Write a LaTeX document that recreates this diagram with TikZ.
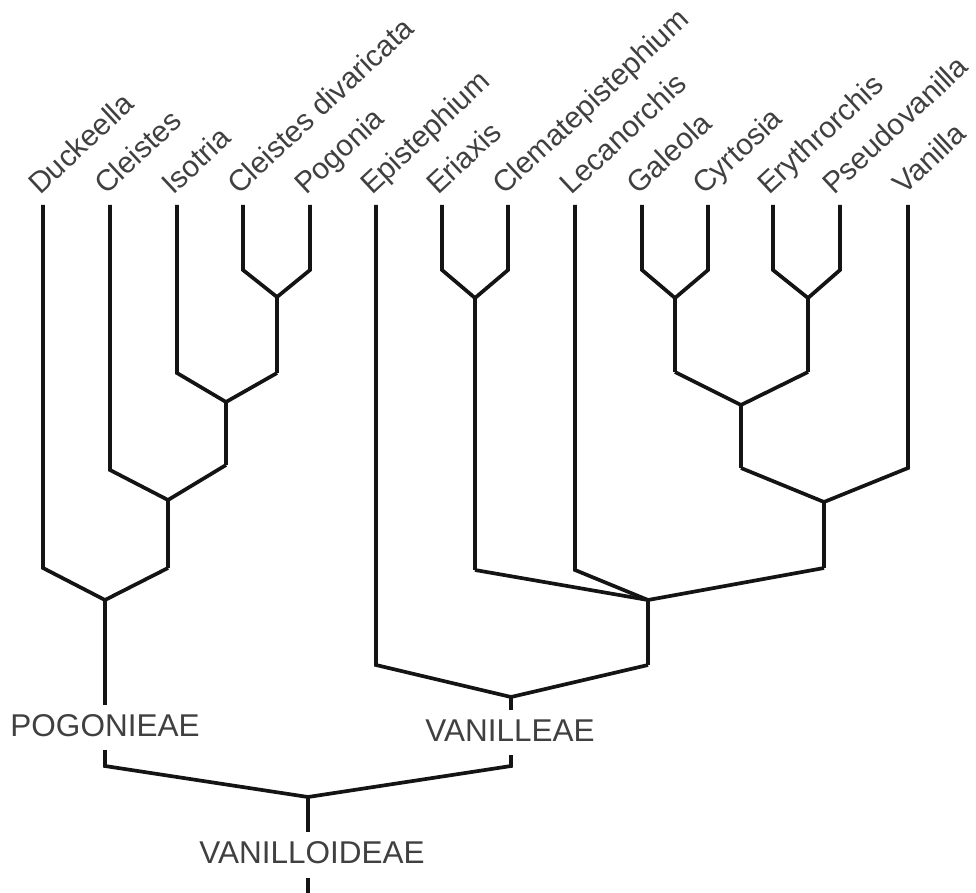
\documentclass[tikz,border=0pt]{standalone}
\usepackage{fontspec}
\setmainfont{Liberation Sans}
\begin{document}
\begin{tikzpicture}[x=1pt,y=-1pt,
  br/.style={line width=3.7pt,draw=black!92,line join=miter,line cap=butt},
  leaf/.style={rotate=43,anchor=base west,inner sep=0pt,text=black!75,font=\fontsize{29.8}{36}\selectfont},
  clade/.style={inner sep=0pt,text=black!75,font=\fontsize{31.5}{38}\selectfont}]
\useasboundingbox (0,0) rectangle (976,893);
% leaf tops
\foreach \n/\x in {1/43,2/110,3/177,4/243,5/310,6/376,7/442,8/508,9/575,10/642,11/708,12/773,13/840,14/908}{
  \coordinate (t\n) at (\x,205);
}
% leaf labels
\node[leaf] (l1) at (40,196) {Duckeella};
\node[leaf] (l2) at (106,196) {Cleistes};
\node[leaf] (l3) at (173,196) {Isotria};
\node[leaf] (l4) at (239,196) {Cleistes divaricata};
\node[leaf] (l5) at (306,196) {Pogonia};
\node[leaf] (l6) at (372,196) {Epistephium};
\node[leaf] (l7) at (438,196) {Eriaxis};
\node[leaf] (l8) at (504,196) {Clematepistephium};
\node[leaf] (l9) at (571,196) {Lecanorchis};
\node[leaf] (l10) at (638,196) {Galeola};
\node[leaf] (l11) at (704,196) {Cyrtosia};
\node[leaf] (l12) at (769,196) {Erythrorchis};
\node[leaf] (l13) at (834,196) {Pseudovanilla};
\node[leaf] (l14) at (904,196) {Vanilla};
% Pogonieae
\coordinate (b4) at (243,270); \coordinate (b5) at (310,270);
\coordinate (j45) at (277,297); \coordinate (s45) at (277,373);
\coordinate (b3) at (177,373); \coordinate (j3) at (226,402); \coordinate (s3) at (226,465);
\coordinate (b2) at (110,470); \coordinate (j2) at (168,500); \coordinate (s2) at (168,568);
\coordinate (b1) at (43,568); \coordinate (jP) at (105,600); \coordinate (sP) at (105,705);
\draw[br] (t4) -- (b4) -- (j45) -- (b5) -- (t5);
\draw[br] (j45) -- (s45);
\draw[br] (t3) -- (b3) -- (j3) -- (s45);
\draw[br] (j3) -- (s3);
\draw[br] (t2) -- (b2) -- (j2) -- (s3);
\draw[br] (j2) -- (s2);
\draw[br] (t1) -- (b1) -- (jP) -- (s2);
\draw[br] (jP) -- (sP);
\node[clade] (pog) at (105,726) {POGONIEAE};
% Vanilleae
\coordinate (b7) at (442,270); \coordinate (b8) at (508,270);
\coordinate (j78) at (475,298); \coordinate (s78) at (475,570);
\coordinate (b10) at (642,270); \coordinate (b11) at (708,270);
\coordinate (j1011) at (675,298); \coordinate (s1011) at (675,372);
\coordinate (b12) at (773,270); \coordinate (b13) at (840,270);
\coordinate (j1213) at (808,298); \coordinate (s1213) at (808,372);
\coordinate (jG) at (741,405); \coordinate (sG) at (741,468);
\coordinate (b14) at (908,468); \coordinate (jV1) at (824,502); \coordinate (sV1) at (824,568);
\coordinate (b9) at (575,570);
\coordinate (jV2) at (648,600); \coordinate (sV2) at (648,665);
\coordinate (b6) at (376,665); \coordinate (jV) at (511,697); \coordinate (sV) at (511,710);
\draw[br] (t7) -- (b7) -- (j78) -- (b8) -- (t8);
\draw[br] (j78) -- (s78);
\draw[br] (t10) -- (b10) -- (j1011) -- (b11) -- (t11);
\draw[br] (j1011) -- (s1011);
\draw[br] (t12) -- (b12) -- (j1213) -- (b13) -- (t13);
\draw[br] (j1213) -- (s1213);
\draw[br] (s1011) -- (jG) -- (s1213);
\draw[br] (jG) -- (sG);
\draw[br] (sG) -- (jV1) -- (b14) -- (t14);
\draw[br] (jV1) -- (sV1);
\draw[br] (s78) -- (jV2) -- (sV1);
\draw[br] (t9) -- (b9) -- (jV2);
\draw[br] (jV2) -- (sV2);
\draw[br] (t6) -- (b6) -- (jV) -- (sV2);
\draw[br] (jV) -- (sV);
\node[clade] (van) at (510,731) {VANILLEAE};
% root
\coordinate (r1) at (105,750); \coordinate (r2) at (105,766);
\coordinate (r4) at (511,755); \coordinate (r3) at (511,766);
\coordinate (jR) at (308,797); \coordinate (sR) at (308,832);
\draw[br] (r1) -- (r2) -- (jR) -- (r3) -- (r4);
\draw[br] (jR) -- (sR);
\node[clade] (root) at (312,853) {VANILLOIDEAE};
\coordinate (d1) at (308,878); \coordinate (d2) at (308,893);
\draw[br] (d1) -- (d2);
\end{tikzpicture}
\end{document}
